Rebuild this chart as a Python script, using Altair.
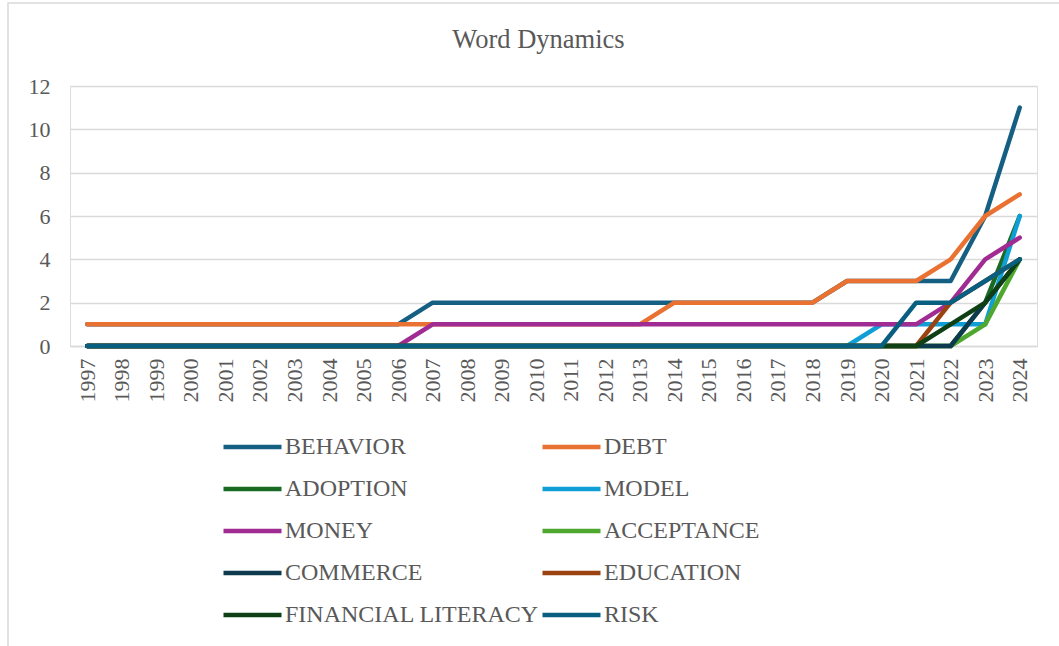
import altair as alt
import pandas as pd

# Publication years on the category axis
years = [str(y) for y in range(1997, 2025)]

# Keyword occurrence counts per year
behavior = [1] * 10 + [2] * 12 + [3, 3, 3, 3, 6, 11]
debt = [1] * 17 + [2] * 5 + [3, 3, 3, 4, 6, 7]
adoption = [0] * 26 + [2, 6]
model = [0] * 23 + [1, 1, 1, 1, 6]
money = [0] * 10 + [1] * 15 + [2, 4, 5]
acceptance = [0] * 26 + [1, 4]
commerce = [0] * 26 + [2, 4]
education = [0] * 25 + [2, 3, 4]
financial_literacy = [0] * 25 + [1, 2, 4]
risk = [0] * 24 + [2, 2, 3, 4]

series_names = [
    "BEHAVIOR", "DEBT", "ADOPTION", "MODEL", "MONEY",
    "ACCEPTANCE", "COMMERCE", "EDUCATION", "FINANCIAL LITERACY", "RISK",
]
series_values = [
    behavior, debt, adoption, model, money,
    acceptance, commerce, education, financial_literacy, risk,
]
series_colors = [
    "#156082", "#E97132", "#196B24", "#0F9ED5", "#A02B93",
    "#4EA72E", "#0D3A4E", "#9A4311", "#0F4015", "#095F80",
]

rows = []
for name, values in zip(series_names, series_values):
    for year, v in zip(years, values):
        rows.append({"Year": year, "Word": name, "Count": v})
df = pd.DataFrame(rows)

FONT = "Liberation Serif"
TEXT = "#595959"
GRID = "#D9D9D9"

lines = alt.Chart(df).mark_line(strokeWidth=4.5, strokeCap="round", strokeJoin="round").encode(
    x=alt.X(
        "Year:O",
        sort=years,
        scale=alt.Scale(type="point", padding=0.5),
        axis=alt.Axis(
            title=None, labelAngle=270, labelAlign="right", labelBaseline="middle",
            labelPadding=12, ticks=False, domain=True, domainColor=GRID, domainWidth=1.5,
            labelFont=FONT, labelFontSize=22, labelColor=TEXT, grid=False,
        ),
    ),
    y=alt.Y(
        "Count:Q",
        scale=alt.Scale(domain=[0, 12], nice=False),
        axis=alt.Axis(
            title=None, values=[0, 2, 4, 6, 8, 10, 12], ticks=False, domain=False,
            labelPadding=20, labelFont=FONT, labelFontSize=22, labelColor=TEXT,
            gridColor=GRID, gridWidth=1.5,
        ),
    ),
    color=alt.Color(
        "Word:N",
        sort=series_names,
        scale=alt.Scale(domain=series_names, range=series_colors),
        legend=alt.Legend(
            title=None, orient="none", legendX=151, legendY=340, columns=2,
            direction="horizontal",
            symbolType="stroke", symbolSize=3364, symbolStrokeWidth=4.5,
            clipHeight=42, rowPadding=0, columnPadding=1, labelOffset=1,
            labelFont=FONT, labelFontSize=24, labelColor=TEXT, labelLimit=400,
            padding=0,
        ),
    ),
    detail="Word:N",
)

# Light outer frame around the chart area
frame = alt.Chart(pd.DataFrame({"k": [0]})).mark_rect(
    fill=None, stroke=GRID, strokeWidth=1.5
).encode(
    x=alt.value(-62), x2=alt.value(1010), y=alt.value(-83), y2=alt.value(600)
)

chart = (
    alt.layer(frame, lines)
    .properties(
        width=967,
        height=260,
        title=alt.TitleParams(
            "Word Dynamics", font=FONT, fontSize=26.5, fontWeight="normal",
            color=TEXT, anchor="middle", offset=0, baseline="alphabetic", dy=72, dx=-15,
        ),
        autosize=alt.AutoSizeParams(type="none"),
        padding={"left": 70, "top": 86, "right": 22, "bottom": 300},
    )
    .configure_view(stroke=None)
    .configure(background="white")
)

chart.save("out.html", embed_options={"renderer": "svg", "actions": False})
